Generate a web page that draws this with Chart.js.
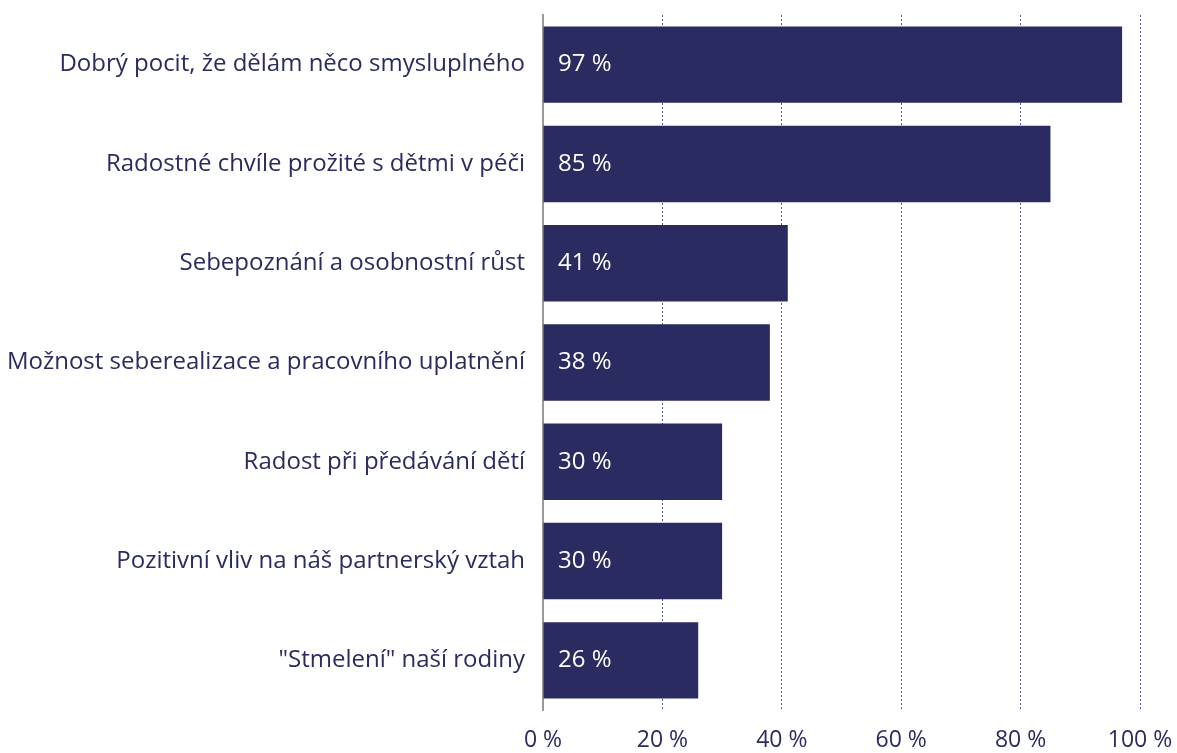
<!DOCTYPE html>
<html>
<head>
<meta charset="utf-8">
<script src="https://cdn.jsdelivr.net/npm/chart.js@4"></script>
<style>
  html, body { margin: 0; padding: 0; background: #fff; }
  #wrap { width: 1177px; height: 753px; }
</style>
</head>
<body>
<div id="wrap"><canvas id="chart" width="1177" height="753"></canvas></div>
<script>
const categories = [
  'Dobrý pocit, že dělám něco smysluplného',
  'Radostné chvíle prožité s dětmi v péči',
  'Sebepoznání a osobnostní růst',
  'Možnost seberealizace a pracovního uplatnění',
  'Radost při předávání dětí',
  'Pozitivní vliv na náš partnerský vztah',
  '"Stmelení" naší rodiny'
];
const values = [97, 85, 41, 38, 30, 30, 26];
const xTicks = [0, 20, 40, 60, 80, 100];

const NAVY = '#2a2b60';
const FONT = '"Open Sans", "Noto Sans", sans-serif';

// white value labels inside the bars
const insideLabels = {
  id: 'insideLabels',
  afterDatasetsDraw(chart) {
    const ctx = chart.ctx;
    const meta = chart.getDatasetMeta(0);
    const x0 = chart.scales.x.getPixelForValue(0);
    ctx.save();
    ctx.fillStyle = '#ffffff';
    ctx.font = '24px ' + FONT;
    ctx.textBaseline = 'middle';
    ctx.textAlign = 'left';
    meta.data.forEach((bar, i) => {
      ctx.fillText(values[i] + ' %', x0 + 15, bar.y);
    });
    ctx.restore();
  }
};

new Chart(document.getElementById('chart'), {
  type: 'bar',
  data: {
    labels: categories,
    datasets: [{
      data: values,
      backgroundColor: NAVY,
      borderWidth: 0,
      categoryPercentage: 1,
      barPercentage: 0.77
    }]
  },
  options: {
    indexAxis: 'y',
    responsive: false,
    animation: false,
    layout: { padding: { top: 15, right: 37, left: 0, bottom: 0 } },
    plugins: {
      legend: { display: false },
      tooltip: { enabled: false }
    },
    scales: {
      x: {
        min: 0,
        max: 100,
        afterBuildTicks: axis => { axis.ticks = xTicks.map(v => ({ value: v })); },
        afterFit: axis => {
          axis.height = 43;
          axis.paddingLeft = 0;
          axis.paddingRight = 0;
        },
        grid: { color: '#5a5a9a', lineWidth: 1, drawTicks: false },
        border: { display: false, dash: [2, 2] },
        ticks: {
          padding: 17,
          color: NAVY,
          font: { family: FONT, size: 23 },
          callback: v => v + ' %'
        }
      },
      y: {
        afterFit: axis => {
          axis.width = 543;
          axis.paddingTop = 0;
          axis.paddingBottom = 0;
        },
        grid: { display: false, drawTicks: false },
        border: { display: true, color: '#9a9a9a', width: 2 },
        ticks: {
          padding: 18,
          color: NAVY,
          font: { family: FONT, size: 24 }
        }
      }
    }
  },
  plugins: [insideLabels]
});
</script>
</body>
</html>
